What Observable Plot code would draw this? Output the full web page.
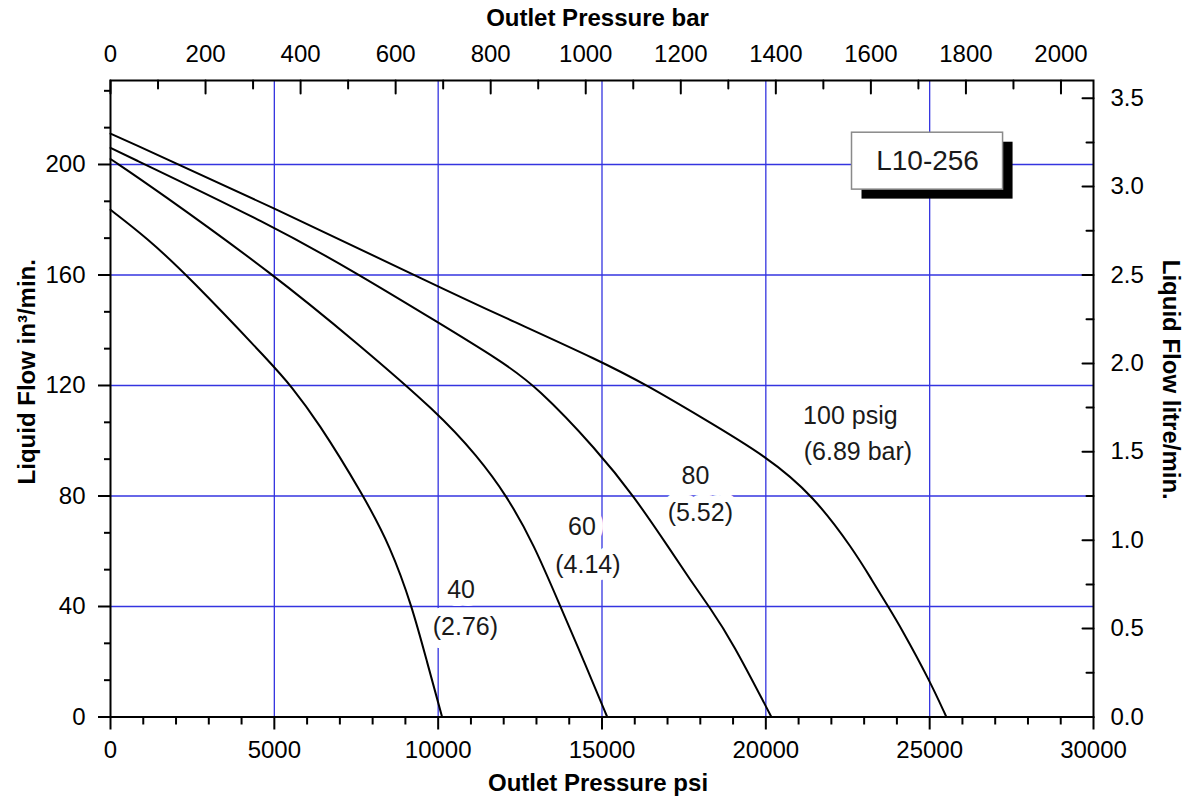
<!DOCTYPE html>
<html>
<head>
<meta charset="utf-8">
<script src="https://cdn.jsdelivr.net/npm/d3@7"></script>
<script src="https://cdn.jsdelivr.net/npm/@observablehq/plot@0.6"></script>
<style>
  html, body { margin: 0; padding: 0; background: white; }
</style>
</head>
<body>
<div id="chart"></div>
<script>
// ---- data ----
const psi40  = [0, 1100, 2340, 5000, 5490, 6300, 7730, 8545, 9205, 9663, 10120];
const flow40 = [183.6, 173.5, 160, 126.8, 120, 107.5, 80, 61.6, 40, 19.8, 0];

const psi60  = [0, 1320, 5000, 7530, 10000, 11190, 12100, 12920, 13730, 14440, 15160];
const flow60 = [202, 191.5, 160, 135.3, 110, 94.5, 80, 62.5, 40, 20.5, 0];

const psi80  = [0, 5000, 7530, 10000, 11900, 13020, 14850, 15970, 17090, 17700, 18280, 18970, 20170];
const flow80 = [206, 177.6, 160.5, 142.8, 129, 119.5, 96.6, 80, 60.4, 49.5, 39.8, 27.4, 0];

const psi100  = [0, 5000, 10000, 11900, 15000, 16380, 18000, 20040, 21460, 22680, 23200, 23730, 24130, 25000, 25510];
const flow100 = [211.2, 184.3, 155.8, 145.3, 128.6, 120, 108.7, 94.2, 80, 60.4, 50.3, 40, 32.2, 13.2, 0];

const seriesNames = ["40", "60", "80", "100"];

// curve labels
const labelText = ["40", "(2.76)", "60", "(4.14)", "80", "(5.52)", "100 psig", "(6.89 bar)"];
const labelPsi  = [10700, 10830, 14390, 14570, 17850, 18000, 22580, 22810];
const labelFlow = [46.1, 32.6, 68.8, 54.9, 87.2, 73.7, 109, 96];

// model tag box
const tagText = "L10-256";
const tagPsi  = [22630, 27240];
const tagFlow = [190.9, 211.5];

// axes ticks
const psiMajor  = [0, 5000, 10000, 15000, 20000, 25000, 30000];
const psiMinor  = d3.range(0, 30001, 1000).filter(v => v % 5000 !== 0);
const flowMajor = [0, 40, 80, 120, 160, 200];
const flowMinor = d3.range(1, 18).filter(k => k % 3 !== 0).map(k => k * 40 / 3);
const barMajor  = [0, 200, 400, 600, 800, 1000, 1200, 1400, 1600, 1800, 2000];
const barMinor  = [100, 300, 500, 700, 900, 1100, 1300, 1500, 1700, 1900];
const litreMajor = [0, 0.5, 1.0, 1.5, 2.0, 2.5, 3.0, 3.5];
const litreMinor = [0.25, 0.75, 1.25, 1.75, 2.25, 2.75, 3.25];

const gridPsi  = [5000, 10000, 15000, 20000, 25000];
const gridFlow = [40, 80, 120, 160, 200];

const PSI_PER_BAR = 14.5038;
const IN3_PER_LITRE = 64; // as drawn on the right axis

// ---- build tables ----
const curves = [
  [psi40, flow40], [psi60, flow60], [psi80, flow80], [psi100, flow100]
].flatMap(([xs, ys], i) => xs.map((x, j) => ({psi: x, flow: ys[j], series: seriesNames[i]})));
const labels = labelText.map((t, i) => ({text: t, psi: labelPsi[i], flow: labelFlow[i]}));
const tag = [{x1: tagPsi[0], x2: tagPsi[1], y1: tagFlow[0], y2: tagFlow[1], text: tagText}];

const grid = "#3434e0";
const tickFont = 24;

// inward tick shapes
const tickDown = {draw(ctx, l) { ctx.moveTo(0, 0); ctx.lineTo(0, l); }};
const tickLeft = {draw(ctx, l) { ctx.moveTo(0, 0); ctx.lineTo(-l, 0); }};

const chart = Plot.plot({
  width: 1192,
  height: 798,
  marginLeft: 110,
  marginRight: 99,
  marginTop: 80,
  marginBottom: 81.5,
  x: {domain: [0, 30000], label: null},
  y: {domain: [0, 230.4], label: null},
  style: {fontFamily: "'Liberation Sans', Arial, sans-serif", fontSize: "24px", background: "white", color: "black"},
  marks: [
    // grid
    Plot.ruleY(gridFlow, {y: d => d, stroke: grid, strokeWidth: 1.3}),
    Plot.ruleX(gridPsi, {x: d => d, stroke: grid, strokeWidth: 1.3}),

    // tag box
    Plot.rect(tag, {x1: "x1", x2: "x2", y1: "y1", y2: "y2", fill: "black", dx: 10, dy: 9.5}),
    Plot.rect(tag, {x1: "x1", x2: "x2", y1: "y1", y2: "y2", fill: "white", stroke: "#8a8a8a", strokeWidth: 1.5}),
    Plot.text(tag, {x: d => (d.x1 + d.x2) / 2, y: d => (d.y1 + d.y2) / 2, text: "text", fontSize: 28, fill: "#1a1a1a"}),

    // curve labels with white background
    Plot.text(labels, {x: "psi", y: "flow", text: "text", fontSize: 25, fill: "#1a1a1a",
      stroke: "white", strokeWidth: 16, paintOrder: "stroke", strokeLinejoin: "round"}),

    // curves
    Plot.line(curves, {x: "psi", y: "flow", z: "series", curve: "basis", stroke: "black", strokeWidth: 2}),

    // bottom axis (psi), outward ticks
    Plot.axisX({anchor: "bottom", ticks: psiMajor, tickSize: 13, tickPadding: 11, tickFormat: d => String(d), fontSize: tickFont, strokeWidth: 2, label: null}),
    Plot.axisX({anchor: "bottom", ticks: psiMinor, tickSize: 8, tickFormat: () => "", strokeWidth: 2, label: null}),

    // top axis (bar): labels + inward ticks
    Plot.axisX({anchor: "top", ticks: barMajor.map(b => b * PSI_PER_BAR), tickSize: 0, tickPadding: 19,
      tickFormat: d => String(Math.round(d / PSI_PER_BAR)), fontSize: tickFont, label: null}),
    Plot.vector(barMajor, {x: b => b * PSI_PER_BAR, frameAnchor: "top", length: 13, anchor: "start", shape: tickDown, stroke: "black", strokeWidth: 2}),
    Plot.vector(barMinor, {x: b => b * PSI_PER_BAR, frameAnchor: "top", length: 8, anchor: "start", shape: tickDown, stroke: "black", strokeWidth: 2}),

    // left axis (in3/min), outward ticks
    Plot.axisY({anchor: "left", ticks: flowMajor, tickSize: 12, tickPadding: 13, tickFormat: d => String(d), fontSize: tickFont, strokeWidth: 2, label: null}),
    Plot.axisY({anchor: "left", ticks: flowMinor, tickSize: 6, tickFormat: () => "", strokeWidth: 2, label: null}),

    // right axis (litre/min): labels + inward ticks
    Plot.axisY({anchor: "right", ticks: litreMajor.map(l => l * IN3_PER_LITRE), tickSize: 0, tickPadding: 17,
      tickFormat: d => (d / IN3_PER_LITRE).toFixed(1), fontSize: tickFont, label: null}),
    Plot.vector(litreMajor, {y: l => l * IN3_PER_LITRE, frameAnchor: "right", length: 11, anchor: "start", shape: tickLeft, stroke: "black", strokeWidth: 2}),
    Plot.vector(litreMinor, {y: l => l * IN3_PER_LITRE, frameAnchor: "right", length: 7, anchor: "start", shape: tickLeft, stroke: "black", strokeWidth: 2}),

    // axis titles
    Plot.text(["Outlet Pressure bar"], {text: d => d, frameAnchor: "top", lineAnchor: "middle", textAnchor: "middle", dx: -4.5, dy: -62, fontWeight: "bold", fontSize: 24}),
    Plot.text(["Outlet Pressure psi"], {text: d => d, frameAnchor: "bottom", lineAnchor: "middle", textAnchor: "middle", dx: -4, dy: 66.5, fontWeight: "bold", fontSize: 24}),
    Plot.text(["Liquid Flow in³/min."], {text: d => d, frameAnchor: "left", lineAnchor: "middle", textAnchor: "middle", dx: -83, dy: -27, rotate: -90, fontWeight: "bold", fontSize: 24}),
    Plot.text(["Liquid Flow litre/min."], {text: d => d, frameAnchor: "right", lineAnchor: "middle", textAnchor: "middle", dx: 77, dy: -19, rotate: 90, fontWeight: "bold", fontSize: 24}),

    Plot.frame({stroke: "black", strokeWidth: 2})
  ]
});
document.getElementById("chart").appendChild(chart);
</script>
</body>
</html>
